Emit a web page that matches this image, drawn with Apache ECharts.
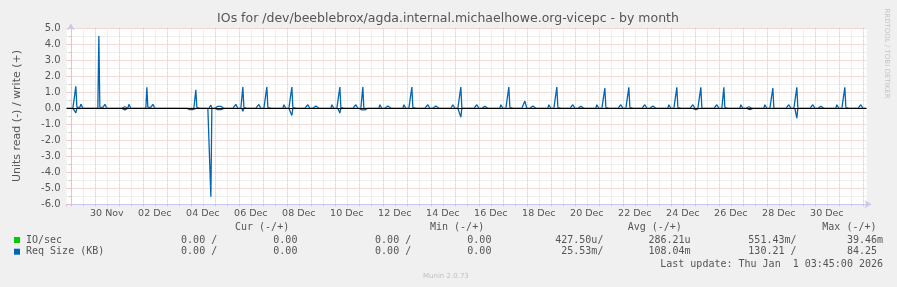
<!DOCTYPE html>
<html><head><meta charset="utf-8">
<script src="https://cdn.jsdelivr.net/npm/echarts@6/dist/echarts.min.js"></script>
<style>html,body{margin:0;padding:0;background:#f0f0f0}#c{width:897px;height:287px}</style>
</head><body><div id="c"></div><script>
// Time axis unit: hours since 29 Nov 00:00 (view ends at Thu Jan 1 03:45)
const X_MIN = -4.25, X_MAX = 795.75;
const HOUR_FIRST = -4, HOUR_LAST = 795;

const xTickHours  = [36,84,132,180,228,276,324,372,420,468,516,564,612,660,708,756];
const xTickLabels = ['30 Nov','02 Dec','04 Dec','06 Dec','08 Dec','10 Dec','12 Dec','14 Dec','16 Dec','18 Dec','20 Dec','22 Dec','24 Dec','26 Dec','28 Dec','30 Dec'];
const yTickValues = [-6,-5,-4,-3,-2,-1,0,1,2,3,4,5];
const yTickLabels = ['-6.0','-5.0','-4.0','-3.0','-2.0','-1.0','0.0','1.0','2.0','3.0','4.0','5.0'];

// Req Size (KB), write (+): [hour, value]; hours not listed sit on 0
const writeSamples = [
 [5,1.37],[6,0.06],[7,0.06],[8,0.06],[9,0.06],[10,0.26],[11,0.24],
 [28,4.52],[29,0.05],[30,0.05],[31,0.05],[32,0.05],[34,0.25],[35,0.24],
 [52,0.1],[53,0.12],[54,0.1],[58,0.25],[59,0.24],
 [76,1.31],[77,0.06],[78,0.06],[79,0.06],[80,0.06],[82,0.25],[83,0.24],
 [125,1.15],[126,0.05],[127,0.15],[128,0.14],
 [140,0.2],
 [147,0.12],[148,0.15],[149,0.15],[150,0.12],
 [165,0.25],[166,0.24],
 [172,1.33],[173,0.06],[174,0.06],[175,0.06],
 [188,0.24],[189,0.22],
 [196,1.33],[197,0.06],[198,0.06],[199,0.06],
 [213,0.22],[214,0.2],
 [221,1.33],[222,0.06],[223,0.06],[224,0.06],
 [237,0.22],[238,0.2],
 [244,0.12],[245,0.15],[246,0.15],[247,0.12],
 [261,0.22],[262,0.2],
 [269,1.33],[270,0.05],[271,0.05],
 [285,0.22],[286,0.2],
 [292,1.33],
 [309,0.22],[310,0.2],
 [316,0.12],[317,0.15],[318,0.15],[319,0.12],
 [333,0.22],[334,0.2],
 [341,1.33],[342,0.06],[343,0.06],[344,0.06],
 [357,0.22],[358,0.2],
 [364,0.12],[365,0.15],[366,0.15],[367,0.12],
 [382,0.22],[383,0.2],
 [390,1.33],
 [406,0.22],[407,0.2],
 [412,0.1],[413,0.12],[414,0.12],[415,0.1],
 [430,0.22],[431,0.2],
 [438,1.33],[439,0.06],[440,0.06],[441,0.06],
 [454,0.45],[455,0.42],
 [461,0.12],[462,0.15],[463,0.15],[464,0.12],
 [478,0.22],[479,0.2],
 [486,1.33],[487,0.06],[488,0.06],[489,0.06],
 [502,0.22],[503,0.2],
 [509,0.1],[510,0.12],[511,0.12],[512,0.1],
 [526,0.22],[527,0.2],
 [534,1.27],[535,0.06],[536,0.06],[537,0.06],
 [550,0.22],[551,0.2],
 [558,1.31],[559,0.06],[560,0.06],[561,0.06],
 [574,0.22],[575,0.2],
 [581,0.12],[582,0.15],[583,0.15],[584,0.12],
 [598,0.22],[599,0.2],
 [606,1.31],[607,0.06],[608,0.06],[609,0.06],
 [622,0.22],[623,0.2],
 [630,1.31],
 [646,0.22],[647,0.2],
 [653,1.31],[654,0.06],[655,0.06],[656,0.06],
 [670,0.22],[671,0.2],
 [677,0.08],[678,0.1],[679,0.08],
 [694,0.22],[695,0.2],
 [702,1.27],
 [718,0.22],[719,0.2],
 [726,1.31],
 [742,0.22],[743,0.2],
 [749,0.1],[750,0.12],[751,0.12],[752,0.1],
 [766,0.22],[767,0.2],
 [774,1.31],[775,0.06],[776,0.06],[777,0.06],
 [790,0.22],[791,0.2]
];
// Req Size (KB), read (drawn as -): [hour, magnitude]
const readSamples = [
 [5,0.29],
 [28,0.06],[29,0.04],
 [52,0.1],[53,0.12],[54,0.1],
 [119,0.08],[120,0.1],[121,0.1],[122,0.08],
 [140,5.52],
 [147,0.08],[148,0.1],[149,0.1],[150,0.08],
 [172,0.19],
 [196,0.05],
 [221,0.45],
 [269,0.3],
 [291,0.1],[292,0.12],[293,0.12],[294,0.1],
 [390,0.55],
 [625,0.08],[626,0.1],
 [677,0.08],[678,0.1],[679,0.08],
 [726,0.62]
];

const legendRows = [
 {name:'IO/sec',        color:'#00cc00', cur:['0.00 /','0.00'], min:['0.00 /','0.00'], avg:['427.50u/','286.21u'], max:['551.43m/','39.46m']},
 {name:'Req Size (KB)', color:'#0066b3', cur:['0.00 /','0.00'], min:['0.00 /','0.00'], avg:['25.53m/','108.04m'],  max:['130.21 /','84.25 ']}
];

function buildSeries(samples, sign) {
  const m = new Map(samples);
  const out = [];
  for (let h = HOUR_FIRST; h <= HOUR_LAST; h++) out.push([h, m.has(h) ? sign * m.get(h) : 0]);
  return out;
}

const BLUE = '#0066b3';
const RED_GRID = '#f0b2b2', GREY_GRID = '#dcdcdc', AXIS = '#c8c8f0';
const TXT = '#555';
const MONO = '10px "DejaVu Sans Mono", monospace';

const chart = echarts.init(document.getElementById('c'), null, {renderer:'canvas'});

const graphic = [
  {type:'text', x:448, y:19, style:{text:'IOs for /dev/beeblebrox/agda.internal.michaelhowe.org-vicepc - by month', font:'12.5px "DejaVu Sans"', fill:TXT, align:'center', verticalAlign:'middle'}},
  {type:'text', x:17, y:116, rotation:Math.PI/2, style:{text:'Units read (-) / write (+)', font:'11px "DejaVu Sans"', fill:TXT, align:'center', verticalAlign:'middle'}},
  {type:'text', x:887, y:53.5, rotation:-Math.PI/2, style:{text:'RRDTOOL / TOBI OETIKER', font:'7px "DejaVu Sans"', fill:'#c4c4c4', align:'center', verticalAlign:'middle'}},
  {type:'text', x:235, y:227.5, style:{text:'Cur (-/+)', font:MONO, fill:TXT, verticalAlign:'middle'}},
  {type:'text', x:430, y:227.5, style:{text:'Min (-/+)', font:MONO, fill:TXT, verticalAlign:'middle'}},
  {type:'text', x:627.7, y:227.5, style:{text:'Avg (-/+)', font:MONO, fill:TXT, verticalAlign:'middle'}},
  {type:'text', x:822.3, y:227.5, style:{text:'Max (-/+)', font:MONO, fill:TXT, verticalAlign:'middle'}},
  {type:'text', x:883, y:264.3, style:{text:'Last update: Thu Jan  1 03:45:00 2026', font:MONO, fill:TXT, align:'right', verticalAlign:'middle'}},
  {type:'text', x:423, y:276.5, style:{text:'Munin 2.0.73', font:'7px "DejaVu Sans"', fill:'#c0c0c0', verticalAlign:'middle'}}
];
legendRows.forEach((r, i) => {
  const y = 240 + i * 11.7;
  graphic.push({type:'rect', shape:{x:14, y:y-3, width:6, height:6}, style:{fill:r.color}});
  graphic.push({type:'text', x:26, y:y, style:{text:r.name, font:MONO, fill:TXT, verticalAlign:'middle'}});
  const cols = [[217.2, r.cur[0]], [297.4, r.cur[1]], [411.2, r.min[0]], [491.4, r.min[1]],
                [603.4, r.avg[0]], [690.6, r.avg[1]], [796.5, r.max[0]], [883, r.max[1]]];
  cols.forEach(([x, t]) => graphic.push({type:'text', x:x, y:y, style:{text:t, font:MONO, fill:TXT, align:'right', verticalAlign:'middle'}}));
});

chart.setOption({
  animation:false,
  backgroundColor:'#f0f0f0',
  graphic: graphic,
  grid:{left:66.6, top:28.3, width:800, height:176, show:true, backgroundColor:'#ffffff', borderWidth:0},
  xAxis:{
    type:'value', min:X_MIN, max:X_MAX, minInterval:12, maxInterval:12,
    axisLine:{show:true, onZero:false, lineStyle:{color:AXIS, width:1}, symbol:['none','arrow'], symbolSize:[6,7], symbolOffset:[0,5]},
    axisTick:{show:true, length:2, lineStyle:{color:RED_GRID}},
    axisLabel:{interval:0, margin:4, color:TXT, fontSize:9.5, fontFamily:'DejaVu Sans',
      formatter:v => { const i = xTickHours.indexOf(v); return i >= 0 ? xTickLabels[i] : ''; }},
    splitLine:{show:true, showMinLine:false, showMaxLine:false, lineStyle:{color:[RED_GRID, GREY_GRID], type:[1,1], width:1}}
  },
  yAxis:{
    type:'value', min:-6, max:5, interval:0.5,
    axisLine:{show:true, lineStyle:{color:AXIS, width:1}, symbol:['none','arrow'], symbolSize:[6,7], symbolOffset:[0,5]},
    axisTick:{show:true, length:2, lineStyle:{color:RED_GRID}},
    axisLabel:{margin:6, color:TXT, fontSize:10, fontFamily:'DejaVu Sans',
      formatter:v => { const i = yTickValues.indexOf(v); return i >= 0 ? yTickLabels[i] : ''; }},
    splitLine:{show:true, lineStyle:{color:[RED_GRID, GREY_GRID], type:[1,1], width:1}}
  },
  series:[
    {name:'Req Size (KB) read', type:'line', data:buildSeries(readSamples, -1), showSymbol:false, symbol:'none',
     lineStyle:{color:BLUE, width:1.3}, itemStyle:{color:BLUE}, silent:true},
    {name:'Req Size (KB) write', type:'line', data:buildSeries(writeSamples, 1), showSymbol:false, symbol:'none',
     lineStyle:{color:BLUE, width:1.3}, itemStyle:{color:BLUE}, silent:true,
     markLine:{silent:true, symbol:['none','none'], label:{show:false}, lineStyle:{color:'#000', width:1, type:'solid'}, data:[{yAxis:0}]}}
  ]
});
</script></body></html>
